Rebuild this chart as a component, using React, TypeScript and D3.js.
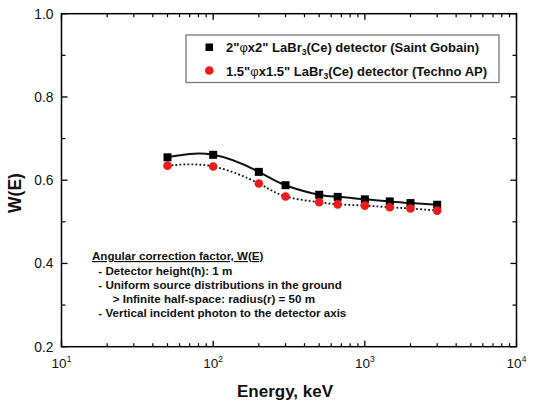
import React from "react";
import * as d3 from "d3";

const energies = [50, 100, 200, 300, 500, 662, 1000, 1460, 2000, 3000];
const saintGobain = [0.655, 0.661, 0.62, 0.588, 0.565, 0.56, 0.554, 0.549, 0.545, 0.541];
const technoAP = [0.635, 0.633, 0.592, 0.561, 0.547, 0.542, 0.539, 0.535, 0.532, 0.527];
const yTicks = [0.2, 0.4, 0.6, 0.8, 1.0];
const yMinorTicks = [0.3, 0.5, 0.7, 0.9];
const xDecades = [10, 100, 1000, 10000];
const xExponents = ["1", "2", "3", "4"];
const noteLines = [
  "- Detector height(h): 1 m",
  "- Uniform source distributions in the ground",
  "> Infinite half-space: radius(r) = 50 m",
  "- Vertical incident photon to the detector axis",
];
const noteIndent = [0, 0, 14.4, 0];

const W = 537;
const H = 409;
const L = 61.5, R = 516.5, T = 13.7, B = 346.7;

export default function App() {
  const x = d3.scaleLog().domain([10, 10000]).range([L, R]);
  const y = d3.scaleLinear().domain([0.2, 1.0]).range([B, T]);

  const xMinor: number[] = [];
  for (let d = 10; d < 10000; d *= 10) {
    for (let k = 2; k <= 9; k++) xMinor.push(d * k);
  }

  const line = d3
    .line<number>()
    .x((_, i) => x(energies[i]))
    .y((v) => y(v))
    .curve(d3.curveNatural);

  const font = "Liberation Sans, Arial, sans-serif";
  const red = "#ec1a1a";

  return (
    <svg
      width={W}
      height={H}
      style={{ position: "absolute", left: 0, top: 0, background: "#fff" }}
      fontFamily={font}
    >
      <rect x={0} y={0} width={W} height={H} fill="#fff" />
      {/* curves */}
      <path d={line(saintGobain) || ""} fill="none" stroke="#111" strokeWidth={2} />
      <path
        d={line(technoAP) || ""}
        fill="none"
        stroke="#111"
        strokeWidth={1.8}
        strokeDasharray="1.8 2.2"
      />
      {/* markers */}
      {saintGobain.map((v, i) => (
        <rect key={"s" + i} x={x(energies[i]) - 4} y={y(v) - 4} width={8} height={8} fill="#000" />
      ))}
      {technoAP.map((v, i) => (
        <circle key={"c" + i} cx={x(energies[i])} cy={y(v)} r={4.3} fill={red} />
      ))}

      {/* frame */}
      <rect x={L} y={T} width={R - L} height={B - T} fill="none" stroke="#000" strokeWidth={1.5} />

      {/* y ticks */}
      {yTicks.map((t) => (
        <g key={"yt" + t}>
          <line x1={L} x2={L + 6} y1={y(t)} y2={y(t)} stroke="#000" strokeWidth={1.3} />
          <line x1={R} x2={R - 6} y1={y(t)} y2={y(t)} stroke="#000" strokeWidth={1.3} />
          <text x={L - 8} y={y(t)} dy="0.36em" textAnchor="end" fontSize={13.8} fill="#111">
            {t.toFixed(1)}
          </text>
        </g>
      ))}
      {yMinorTicks.map((t) => (
        <g key={"ym" + t}>
          <line x1={L} x2={L + 4} y1={y(t)} y2={y(t)} stroke="#000" strokeWidth={1.2} />
          <line x1={R} x2={R - 4} y1={y(t)} y2={y(t)} stroke="#000" strokeWidth={1.2} />
        </g>
      ))}

      {/* x ticks */}
      {xDecades.map((d, i) => (
        <g key={"xt" + d}>
          <line x1={x(d)} x2={x(d)} y1={B} y2={B - 6} stroke="#000" strokeWidth={1.3} />
          <line x1={x(d)} x2={x(d)} y1={T} y2={T + 6} stroke="#000" strokeWidth={1.3} />
          <text x={x(d)} y={368.3} textAnchor="middle" fontSize={13.5} fill="#111">
            10
            <tspan fontSize={8.5} dy={-6}>
              {xExponents[i]}
            </tspan>
          </text>
        </g>
      ))}
      {xMinor.map((d) => (
        <g key={"xm" + d}>
          <line x1={x(d)} x2={x(d)} y1={B} y2={B - 3.5} stroke="#000" strokeWidth={1.2} />
          <line x1={x(d)} x2={x(d)} y1={T} y2={T + 3.5} stroke="#000" strokeWidth={1.2} />
        </g>
      ))}

      {/* axis titles */}
      <text x={285} y={396.5} textAnchor="middle" fontSize={17} fontWeight="bold" fill="#111">
        Energy, keV
      </text>
      <text
        transform={`translate(20.5, 193) rotate(-90)`}
        textAnchor="middle"
        fontSize={17.5}
        fontWeight="bold"
        fill="#111"
      >
        W(E)
      </text>

      {/* legend */}
      <rect x={186} y={35} width={313} height={47.5} fill="#fff" stroke="#7a7a7a" strokeWidth={1.3} />
      <rect x={205.5} y={43.5} width={7.5} height={7.5} fill="#000" />
      <circle cx={209.3} cy={70.5} r={4.3} fill={red} />
      <text x={226} y={52} fontSize={13} fontWeight="bold" fill="#111">
        2"<tspan fontWeight="normal">φ</tspan>x2" LaBr
        <tspan fontSize={8.5} dy={3}>3</tspan>
        <tspan dy={-3}>(Ce) detector (Saint Gobain)</tspan>
      </text>
      <text x={226} y={75.5} fontSize={13} fontWeight="bold" fill="#111">
        1.5"<tspan fontWeight="normal">φ</tspan>x1.5" LaBr
        <tspan fontSize={8.5} dy={3}>3</tspan>
        <tspan dy={-3}>(Ce) detector (Techno AP)</tspan>
      </text>

      {/* notes */}
      <text x={92} y={260} fontSize={11.6} fontWeight="bold" fill="#111" textDecoration="underline">
        Angular correction factor, W(E)
      </text>
      {noteLines.map((s, i) => (
        <text
          key={"n" + i}
          x={98.3 + noteIndent[i]}
          y={274.8 + i * 14.2}
          fontSize={11.6}
          fontWeight="bold"
          fill="#111"
        >
          {s}
        </text>
      ))}
    </svg>
  );
}
